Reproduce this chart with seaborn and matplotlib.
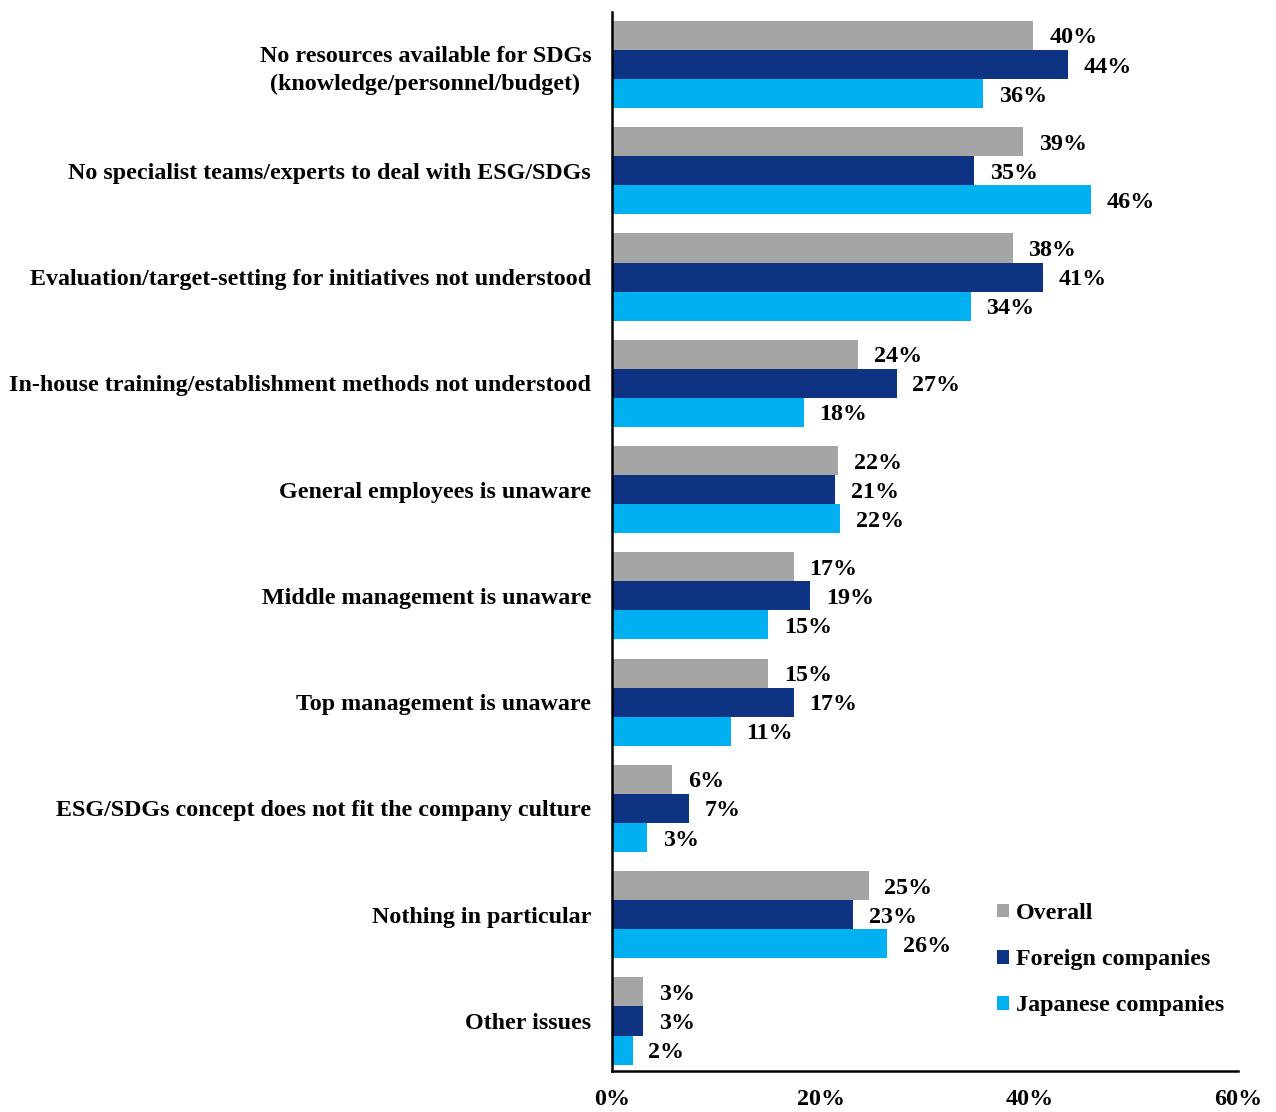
import matplotlib
matplotlib.use("Agg")
import matplotlib.pyplot as plt
import seaborn as sns
import pandas as pd

categories = [
    "No resources available for SDGs\n(knowledge/personnel/budget)",
    "No specialist teams/experts to deal with ESG/SDGs",
    "Evaluation/target-setting for initiatives not understood",
    "In-house training/establishment methods not understood",
    "General employees is unaware",
    "Middle management is unaware",
    "Top management is unaware",
    "ESG/SDGs concept does not fit the company culture",
    "Nothing in particular",
    "Other issues",
]
groups = ["Overall", "Foreign companies", "Japanese companies"]
overall = [40.4, 39.4, 38.4, 23.6, 21.7, 17.4, 15.0, 5.8, 24.6, 3.0]
foreign = [43.7, 34.7, 41.3, 27.3, 21.4, 19.0, 17.4, 7.4, 23.1, 3.0]
japanese = [35.6, 45.9, 34.4, 18.4, 21.9, 15.0, 11.4, 3.4, 26.4, 2.0]
xticks = [0, 20, 40, 60]

colors = ["#A5A5A5", "#0D3382", "#00B0F0"]

rows = []
for g, vals in zip(groups, [overall, foreign, japanese]):
    for c, v in zip(categories, vals):
        rows.append({"category": c, "group": g, "value": v})
df = pd.DataFrame(rows)

sns.set_style("white")
plt.rcParams["font.family"] = ["Liberation Serif", "DejaVu Serif"]
plt.rcParams["font.weight"] = "bold"
plt.rcParams["text.color"] = "black"
plt.rcParams["xtick.color"] = "black"
plt.rcParams["ytick.color"] = "black"

fig = plt.figure(figsize=(12.76, 11.12), dpi=100)
ax = fig.add_axes([0.4796, 0.0369, 0.4906, 0.9523])

sns.barplot(data=df, y="category", x="value", hue="group", order=categories,
            hue_order=groups, palette=colors, orient="h", width=0.82,
            saturation=1, ax=ax, errorbar=None, linewidth=0)

fs = 17.3
for cont in ax.containers:
    for bar in cont:
        w = bar.get_width()
        ax.text(w + 1.5, bar.get_y() + bar.get_height() / 2, f"{round(w):.0f}%",
                va="center_baseline", ha="left", fontsize=fs, fontweight="bold",
                color="black")

ax.set_xlim(0, 60)
ax.set_ylim(9.47, -0.494)
ax.set_xticks(xticks)
ax.set_xticklabels([f"{t}%" for t in xticks], fontsize=fs, fontweight="bold")
ax.set_yticks(range(len(categories)))
ax.set_yticklabels(categories, fontsize=fs, fontweight="bold")
for lbl in ax.get_yticklabels():
    lbl.set_horizontalalignment("right")
    lbl.set_multialignment("center")
    lbl.set_linespacing(1.45)
ax.tick_params(axis="y", length=0, pad=15)
ax.tick_params(axis="x", direction="in", length=6, width=1.5, pad=13, color="black")
ax.set_xlabel("")
ax.set_ylabel("")

for s in ["top", "right"]:
    ax.spines[s].set_visible(False)
for s in ["left", "bottom"]:
    ax.spines[s].set_color("black")
    ax.spines[s].set_linewidth(1.8)

leg = ax.legend(loc="upper left", bbox_to_anchor=(0.58, 0.179), frameon=False,
                prop={"size": fs, "weight": "bold"}, handlelength=0.5,
                handleheight=0.5, handletextpad=0.3, labelspacing=1.05)

fig.savefig("out.png", dpi=100)
